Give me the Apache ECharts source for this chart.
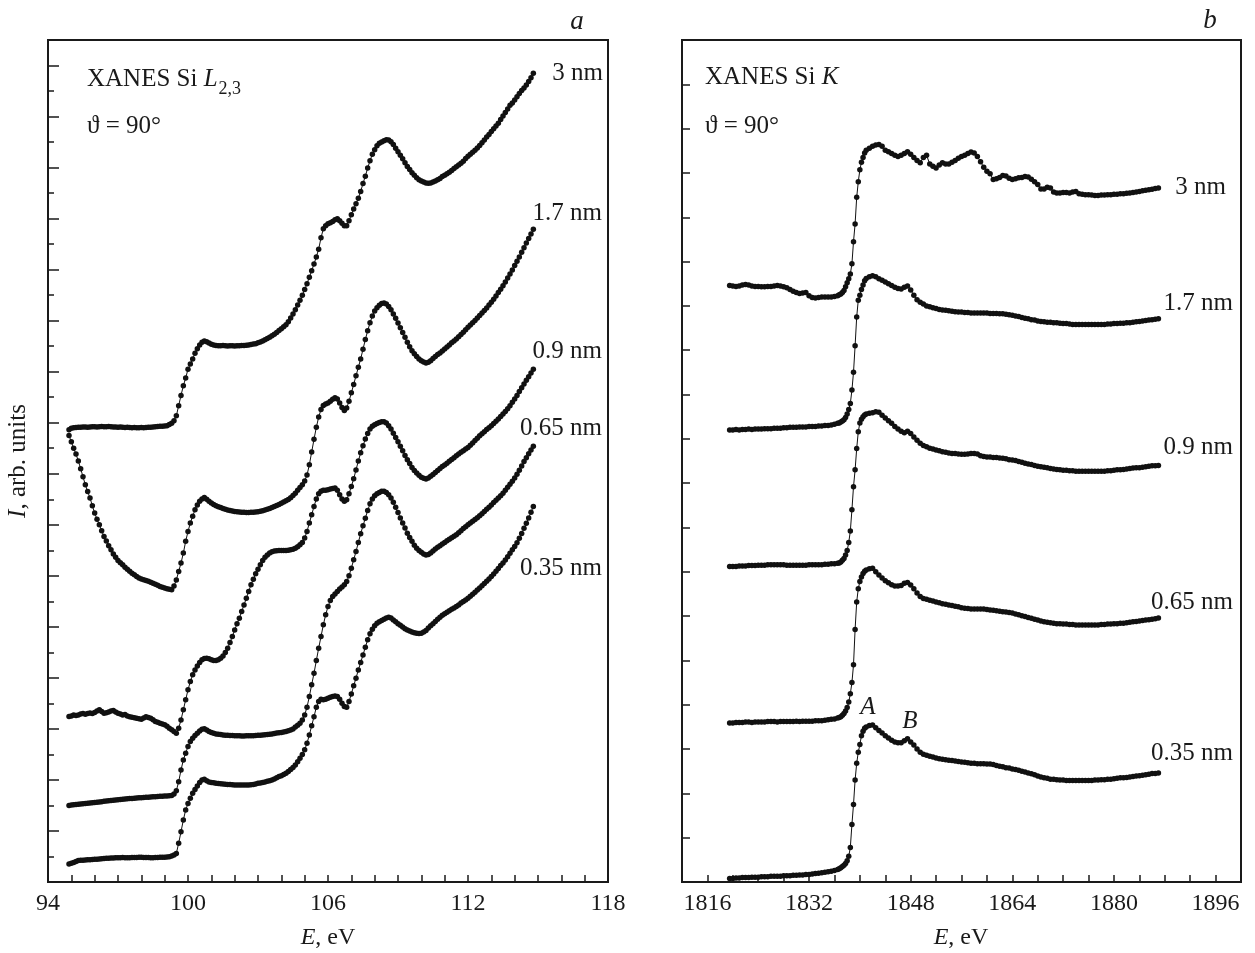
<!DOCTYPE html>
<html>
<head>
<meta charset="utf-8">
<script src="https://cdn.jsdelivr.net/npm/echarts@6/dist/echarts.min.js"></script>
<style>
html,body{margin:0;padding:0;background:#fff;}
#chart{width:1255px;height:953px;}
</style>
</head>
<body>
<div id="chart"></div>
<script>
// ---------- Panel a: XANES Si L2,3 (energy grid 94.9 .. 114.8 eV, step 0.1) ----------
const L_E_START = 94.9, L_E_STEP = 0.1, L_E_COUNT = 200;
const L_TICK_LABELS = [94, 100, 106, 112, 118];

const L_3nm = [
17.72,17.78,17.80,17.81,17.82,17.82,17.83,17.83,17.82,17.83,
17.84,17.84,17.83,17.84,17.85,17.84,17.84,17.85,17.84,17.83,
17.83,17.82,17.83,17.82,17.81,17.82,17.81,17.80,17.81,17.80,
17.80,17.81,17.80,17.81,17.82,17.82,17.83,17.84,17.85,17.86,
17.86,17.87,17.88,17.93,17.98,18.08,18.27,18.67,19.07,19.45,
19.75,20.1,20.3,20.5,20.72,20.9,21.05,21.15,21.2,21.17,
21.12,21.08,21.05,21.03,21.02,21.02,21.03,21.02,21.01,21.02,
21.02,21.01,21.02,21.02,21.03,21.03,21.04,21.05,21.07,21.09,
21.1,21.13,21.16,21.2,21.25,21.3,21.35,21.41,21.47,21.54,
21.61,21.68,21.76,21.84,21.96,22.1,22.26,22.43,22.61,22.8,
23.0,23.22,23.45,23.7,23.96,24.22,24.5,24.8,25.25,25.6,
25.72,25.8,25.84,25.89,25.96,25.99,25.92,25.82,25.72,25.72,
25.92,26.15,26.38,26.58,26.8,27.06,27.38,27.66,27.98,28.27,
28.52,28.7,28.86,28.95,29.0,29.05,29.09,29.08,29.01,28.9,
28.76,28.62,28.48,28.35,28.19,28.04,27.92,27.8,27.7,27.6,
27.52,27.47,27.43,27.4,27.39,27.4,27.43,27.47,27.52,27.57,
27.65,27.7,27.76,27.82,27.89,27.96,28.03,28.1,28.17,28.25,
28.36,28.44,28.52,28.6,28.68,28.77,28.87,28.97,29.08,29.2,
29.3,29.41,29.52,29.63,29.74,29.88,30.02,30.16,30.3,30.44,
30.53,30.65,30.78,30.9,31.02,31.12,31.24,31.37,31.52,31.7
];
const L_1_7nm = [
17.5,17.25,17.0,16.77,16.5,16.2,15.88,15.57,15.3,15.05,
14.75,14.46,14.22,14.0,13.77,13.54,13.36,13.18,13.02,12.86,
12.73,12.6,12.51,12.43,12.34,12.26,12.18,12.1,12.04,11.97,
11.91,11.88,11.85,11.82,11.79,11.75,11.71,11.67,11.63,11.58,
11.55,11.52,11.49,11.47,11.45,11.6,11.84,12.17,12.5,12.89,
13.35,13.74,14.07,14.33,14.59,14.78,14.92,15.01,15.07,15.0,
14.92,14.85,14.8,14.75,14.71,14.68,14.64,14.61,14.58,14.56,
14.54,14.52,14.51,14.5,14.49,14.49,14.48,14.48,14.49,14.49,
14.5,14.51,14.53,14.55,14.58,14.61,14.64,14.68,14.72,14.76,
14.8,14.84,14.89,14.94,14.99,15.06,15.15,15.24,15.35,15.46,
15.57,15.72,15.95,16.35,16.85,17.35,17.82,18.22,18.52,18.68,
18.73,18.77,18.84,18.92,18.98,18.93,18.77,18.6,18.48,18.58,
18.84,19.17,19.5,19.84,20.17,20.5,20.88,21.26,21.6,21.92,
22.18,22.38,22.51,22.6,22.67,22.69,22.65,22.56,22.43,22.26,
22.09,21.91,21.72,21.54,21.35,21.15,20.98,20.82,20.7,20.6,
20.5,20.43,20.38,20.34,20.37,20.43,20.52,20.6,20.67,20.73,
20.81,20.89,20.97,21.05,21.13,21.2,21.28,21.37,21.46,21.55,
21.64,21.74,21.83,21.92,22.01,22.1,22.2,22.3,22.4,22.5,
22.61,22.72,22.84,22.97,23.1,23.23,23.37,23.52,23.67,23.83,
23.99,24.16,24.33,24.5,24.68,24.86,25.04,25.22,25.4,25.58
];
const L_0_9nm = [
6.49,6.51,6.55,6.53,6.55,6.58,6.6,6.57,6.6,6.62,
6.6,6.64,6.7,6.75,6.68,6.61,6.63,6.66,6.7,6.72,
6.66,6.61,6.58,6.55,6.56,6.51,6.48,6.46,6.44,6.42,
6.4,6.38,6.43,6.48,6.45,6.42,6.36,6.29,6.26,6.22,
6.19,6.16,6.1,6.03,5.97,5.9,5.83,6.03,6.35,6.75,
7.14,7.53,7.86,8.12,8.31,8.47,8.6,8.71,8.76,8.77,
8.75,8.71,8.68,8.68,8.71,8.77,8.86,8.99,9.16,9.39,
9.62,9.88,10.12,10.34,10.6,10.86,11.12,11.39,11.65,11.87,
12.08,12.26,12.43,12.6,12.73,12.82,12.89,12.94,12.97,12.98,
12.99,12.99,12.99,12.99,13.0,13.02,13.04,13.08,13.14,13.22,
13.31,13.48,13.74,14.07,14.39,14.72,15.01,15.22,15.31,15.35,
15.35,15.37,15.4,15.42,15.44,15.35,15.18,15.01,14.92,14.98,
15.22,15.5,15.8,16.15,16.5,16.82,17.1,17.36,17.58,17.75,
17.86,17.92,17.97,18.01,18.04,18.04,17.99,17.88,17.75,17.59,
17.42,17.25,17.08,16.9,16.72,16.55,16.4,16.25,16.13,16.03,
15.94,15.86,15.82,15.79,15.83,15.9,15.97,16.05,16.13,16.21,
16.28,16.34,16.41,16.49,16.56,16.63,16.71,16.77,16.84,16.9,
16.97,17.03,17.12,17.21,17.3,17.39,17.49,17.57,17.65,17.73,
17.8,17.88,17.97,18.06,18.15,18.24,18.34,18.44,18.55,18.67,
18.8,18.93,19.07,19.22,19.37,19.52,19.66,19.8,19.95,20.1
];
const L_0_65nm = [
3.0,3.02,3.03,3.04,3.05,3.06,3.07,3.08,3.09,3.1,
3.11,3.12,3.13,3.14,3.15,3.16,3.17,3.18,3.19,3.2,
3.21,3.22,3.23,3.24,3.25,3.26,3.27,3.27,3.28,3.29,
3.3,3.3,3.31,3.32,3.32,3.33,3.34,3.34,3.35,3.36,
3.36,3.37,3.37,3.38,3.39,3.45,3.58,3.93,4.39,4.78,
5.05,5.31,5.51,5.63,5.74,5.83,5.92,5.99,6.01,5.96,
5.9,5.86,5.83,5.8,5.79,5.78,5.76,5.75,5.75,5.74,
5.74,5.73,5.73,5.73,5.72,5.72,5.73,5.73,5.73,5.73,
5.74,5.75,5.75,5.76,5.77,5.78,5.79,5.8,5.82,5.84,
5.85,5.86,5.88,5.9,5.93,5.96,6.0,6.07,6.14,6.22,
6.35,6.55,6.85,7.27,7.73,8.18,8.68,9.16,9.62,10.08,
10.47,10.8,11.03,11.19,11.29,11.39,11.48,11.56,11.65,11.78,
12.0,12.3,12.63,12.95,13.31,13.65,13.96,14.26,14.56,14.82,
15.01,15.14,15.22,15.27,15.31,15.31,15.27,15.18,15.05,14.88,
14.69,14.48,14.27,14.07,13.87,13.67,13.5,13.35,13.2,13.08,
12.99,12.92,12.86,12.82,12.84,12.89,12.97,13.05,13.12,13.18,
13.25,13.31,13.37,13.43,13.49,13.55,13.61,13.69,13.77,13.85,
13.92,14.0,14.07,14.14,14.21,14.28,14.35,14.43,14.52,14.61,
14.69,14.78,14.87,14.96,15.05,15.14,15.24,15.35,15.47,15.59,
15.71,15.83,15.98,16.14,16.3,16.48,16.63,16.78,16.93,17.08
];
const L_0_35nm = [
0.71,0.73,0.76,0.8,0.84,0.85,0.85,0.86,0.87,0.87,
0.88,0.89,0.89,0.9,0.91,0.92,0.93,0.93,0.94,0.94,
0.95,0.95,0.95,0.96,0.95,0.95,0.95,0.96,0.96,0.96,
0.97,0.97,0.96,0.96,0.96,0.95,0.95,0.96,0.96,0.97,
0.97,0.97,0.98,0.99,1.02,1.06,1.12,1.52,1.97,2.43,
2.82,3.08,3.28,3.48,3.63,3.76,3.9,4.0,4.03,3.97,
3.92,3.9,3.89,3.87,3.86,3.85,3.84,3.83,3.82,3.82,
3.81,3.8,3.8,3.8,3.8,3.8,3.8,3.8,3.81,3.82,
3.84,3.87,3.88,3.9,3.92,3.95,3.97,4.0,4.04,4.09,
4.13,4.16,4.21,4.26,4.33,4.41,4.49,4.59,4.71,4.85,
5.0,5.18,5.44,5.76,6.12,6.48,6.85,7.07,7.16,7.14,
7.16,7.2,7.24,7.27,7.29,7.27,7.16,7.01,6.88,6.85,
7.07,7.37,7.69,7.99,8.31,8.6,8.9,9.2,9.49,9.73,
9.91,10.04,10.14,10.2,10.25,10.3,10.35,10.38,10.35,10.27,
10.2,10.12,10.06,9.99,9.93,9.88,9.84,9.8,9.77,9.75,
9.74,9.75,9.8,9.86,9.95,10.04,10.12,10.21,10.3,10.38,
10.45,10.51,10.57,10.63,10.69,10.74,10.8,10.86,10.93,10.99,
11.05,11.12,11.2,11.28,11.36,11.44,11.52,11.61,11.7,11.79,
11.88,11.97,12.07,12.18,12.29,12.4,12.5,12.62,12.75,12.88,
13.02,13.15,13.3,13.47,13.66,13.86,14.06,14.27,14.49,14.72
];

// ---------- Panel b: XANES Si K (energy segments: [start, end, step]) ----------
const K_E_SEGMENTS = [[1819.5, 1836.5, 0.5], [1836.75, 1841.0, 0.25], [1841.5, 1887.0, 0.5]];
const K_TICK_LABELS = [1816, 1832, 1848, 1864, 1880, 1896];

const K_3nm = [
13.46,13.45,13.44,13.45,13.47,13.48,13.47,13.45,13.44,13.44,
13.43,13.43,13.44,13.44,13.45,13.46,13.45,13.43,13.41,13.37,
13.33,13.3,13.28,13.29,13.3,13.23,13.19,13.18,13.19,13.2,
13.2,13.2,13.2,13.21,13.23,
13.25,13.27,13.3,13.35,13.43,13.52,13.61,13.72,13.95,14.45,14.85,15.45,15.8,16.07,16.24,16.35,16.45,16.51,
16.56,16.6,16.63,16.64,16.6,16.51,16.48,16.44,16.4,16.37,
16.4,16.44,16.48,16.42,16.35,16.28,16.23,16.35,16.4,16.2,
16.15,16.11,16.18,16.23,16.2,16.2,16.24,16.28,16.33,16.37,
16.4,16.44,16.47,16.45,16.37,16.25,16.13,16.04,15.98,15.85,
15.87,15.9,15.94,15.93,15.88,15.85,15.87,15.89,15.9,15.92,
15.91,15.86,15.8,15.74,15.64,15.64,15.68,15.66,15.57,15.55,
15.55,15.56,15.56,15.55,15.57,15.58,15.53,15.52,15.51,15.51,
15.5,15.49,15.49,15.5,15.5,15.51,15.51,15.52,15.52,15.53,
15.53,15.54,15.55,15.56,15.57,15.58,15.6,15.61,15.62,15.63,
15.65,15.66
];
const K_1_7nm = [
10.2,10.2,10.21,10.2,10.21,10.21,10.22,10.21,10.22,10.22,
10.22,10.23,10.23,10.23,10.24,10.24,10.24,10.25,10.25,10.26,
10.26,10.26,10.27,10.27,10.27,10.28,10.28,10.28,10.29,10.29,
10.3,10.3,10.31,10.33,10.35,
10.36,10.38,10.4,10.43,10.48,10.56,10.66,10.8,11.1,11.5,12.1,12.75,13.13,13.24,13.37,13.47,13.57,13.62,
13.66,13.68,13.66,13.61,13.58,13.54,13.5,13.46,13.42,13.39,
13.38,13.42,13.45,13.36,13.24,13.14,13.08,13.04,13.0,12.98,
12.96,12.94,12.92,12.91,12.9,12.89,12.88,12.87,12.86,12.86,
12.85,12.85,12.84,12.84,12.84,12.84,12.84,12.84,12.83,12.83,
12.83,12.82,12.82,12.81,12.8,12.79,12.77,12.76,12.74,12.72,
12.71,12.69,12.68,12.66,12.65,12.64,12.63,12.63,12.62,12.62,
12.61,12.6,12.6,12.59,12.58,12.58,12.58,12.58,12.58,12.58,
12.58,12.58,12.58,12.58,12.58,12.59,12.59,12.6,12.6,12.61,
12.61,12.62,12.62,12.63,12.64,12.65,12.66,12.67,12.68,12.69,
12.7,12.71
];
const K_0_9nm = [
7.12,7.12,7.12,7.13,7.13,7.13,7.14,7.14,7.14,7.15,
7.15,7.15,7.16,7.16,7.16,7.16,7.16,7.16,7.15,7.15,
7.15,7.15,7.15,7.15,7.15,7.16,7.16,7.16,7.16,7.16,
7.17,7.17,7.18,7.18,7.19,
7.2,7.22,7.26,7.3,7.38,7.48,7.66,7.92,8.4,8.92,9.3,9.78,10.16,10.36,10.44,10.5,10.54,10.56,
10.58,10.59,10.61,10.6,10.53,10.47,10.41,10.35,10.28,10.22,
10.17,10.14,10.17,10.12,10.04,9.97,9.9,9.85,9.82,9.79,
9.77,9.75,9.73,9.71,9.7,9.68,9.67,9.67,9.66,9.65,
9.65,9.66,9.67,9.67,9.66,9.62,9.6,9.59,9.59,9.58,
9.58,9.57,9.56,9.55,9.53,9.52,9.51,9.49,9.47,9.45,
9.43,9.42,9.4,9.38,9.37,9.36,9.35,9.33,9.32,9.31,
9.3,9.29,9.29,9.28,9.28,9.27,9.27,9.27,9.27,9.27,
9.27,9.27,9.27,9.27,9.27,9.28,9.28,9.29,9.3,9.3,
9.31,9.32,9.33,9.34,9.35,9.35,9.36,9.37,9.38,9.39,
9.39,9.4
];
const K_0_65nm = [
3.59,3.59,3.6,3.6,3.6,3.61,3.61,3.6,3.61,3.61,
3.61,3.61,3.62,3.62,3.62,3.61,3.62,3.62,3.62,3.62,
3.62,3.63,3.62,3.63,3.63,3.63,3.63,3.64,3.64,3.64,
3.65,3.66,3.67,3.68,3.7,
3.71,3.73,3.76,3.8,3.86,3.94,4.06,4.25,4.5,4.9,5.7,6.32,6.62,6.78,6.88,6.96,7.01,7.04,
7.07,7.08,7.0,6.93,6.86,6.8,6.75,6.71,6.68,6.68,
6.69,6.74,6.76,6.7,6.62,6.52,6.44,6.4,6.38,6.36,
6.34,6.32,6.3,6.28,6.27,6.25,6.24,6.22,6.21,6.19,
6.18,6.17,6.16,6.16,6.16,6.16,6.16,6.15,6.14,6.13,
6.12,6.11,6.1,6.09,6.08,6.07,6.05,6.03,6.01,5.99,
5.97,5.95,5.93,5.91,5.89,5.87,5.86,5.85,5.84,5.83,
5.83,5.82,5.82,5.81,5.81,5.8,5.8,5.8,5.8,5.8,
5.8,5.8,5.8,5.81,5.81,5.82,5.82,5.83,5.83,5.84,
5.84,5.85,5.86,5.87,5.88,5.89,5.9,5.91,5.92,5.93,
5.94,5.96
];
const K_0_35nm = [
0.08,0.08,0.09,0.09,0.1,0.1,0.1,0.11,0.11,0.11,
0.12,0.12,0.12,0.13,0.13,0.13,0.13,0.14,0.14,0.14,
0.15,0.15,0.16,0.16,0.17,0.17,0.18,0.19,0.2,0.21,
0.22,0.23,0.24,0.26,0.28,
0.3,0.32,0.35,0.38,0.42,0.48,0.58,0.78,1.3,1.75,2.3,2.68,2.93,3.1,3.3,3.4,3.47,3.5,
3.53,3.54,3.48,3.42,3.36,3.3,3.25,3.2,3.16,3.14,
3.14,3.19,3.23,3.16,3.09,3.0,2.93,2.88,2.86,2.84,
2.82,2.8,2.78,2.77,2.76,2.75,2.74,2.73,2.72,2.71,
2.7,2.69,2.68,2.68,2.67,2.67,2.67,2.66,2.66,2.65,
2.63,2.61,2.6,2.58,2.57,2.55,2.54,2.52,2.5,2.48,
2.46,2.44,2.42,2.39,2.37,2.35,2.34,2.32,2.32,2.31,
2.3,2.3,2.29,2.29,2.29,2.29,2.29,2.29,2.29,2.29,
2.29,2.3,2.3,2.31,2.31,2.32,2.32,2.33,2.34,2.35,
2.35,2.36,2.37,2.38,2.39,2.4,2.41,2.42,2.43,2.45,
2.45,2.46
];

const L_CURVES = [L_3nm, L_1_7nm, L_0_9nm, L_0_65nm, L_0_35nm];
const K_CURVES = [K_3nm, K_1_7nm, K_0_9nm, K_0_65nm, K_0_35nm];
const CURVE_NAMES = ['3 nm', '1.7 nm', '0.9 nm', '0.65 nm', '0.35 nm'];

// ---------- build energy grids ----------
const L_E = [];
for (let i = 0; i < L_E_COUNT; i++) L_E.push(+(L_E_START + i * L_E_STEP).toFixed(2));
const K_E = [];
K_E_SEGMENTS.forEach(([a, b, s]) => {
  const n = Math.round((b - a) / s);
  for (let i = 0; i <= n; i++) K_E.push(+(a + i * s).toFixed(2));
});
L_CURVES.forEach((c, i) => { if (c.length !== L_E.length) throw new Error('L curve ' + i + ' length ' + c.length + ' vs ' + L_E.length); });
K_CURVES.forEach((c, i) => { if (c.length !== K_E.length) throw new Error('K curve ' + i + ' length ' + c.length + ' vs ' + K_E.length); });

// ---------- styling ----------
const FONT = "'Liberation Serif','Times New Roman','DejaVu Serif',serif";
const INK = '#111';
const TXT = '#1a1a1a';
const FS = 25;
const G_A = {left: 48, top: 40, width: 560, height: 842};
const G_B = {left: 682, top: 40, width: 559, height: 842};

function lineSeries(name, xi, yi, es, vals) {
  return {
    type: 'line', name: name, xAxisIndex: xi, yAxisIndex: yi,
    data: es.map((e, i) => [e, vals[i]]),
    symbol: 'circle', symbolSize: 5.5, showSymbol: true, showAllSymbol: true,
    lineStyle: {width: 1, color: INK}, itemStyle: {color: INK},
    silent: true, animation: false, z: 3
  };
}

function xAxisDef(gi, min, max, interval, labels) {
  return {
    type: 'value', gridIndex: gi, min: min, max: max, interval: interval,
    axisLine: {show: false},
    axisTick: {show: true, inside: true, length: 7, lineStyle: {color: TXT, width: 1.5}},
    splitLine: {show: false},
    axisLabel: {
      show: true, margin: 10, color: TXT, fontSize: 24, fontFamily: FONT,
      showMinLabel: true, showMaxLabel: true,
      formatter: v => (labels.indexOf(Math.round(v)) >= 0 && Math.abs(v - Math.round(v)) < 1e-6) ? String(Math.round(v)) : ''
    }
  };
}
function yAxisDef(gi, max, interval, len) {
  return {
    type: 'value', gridIndex: gi, min: 0, max: max, interval: interval, position: 'left',
    axisLine: {show: false},
    axisTick: {show: true, inside: true, length: len, lineStyle: {color: TXT, width: 1.5}},
    axisLabel: {show: false}, splitLine: {show: false}
  };
}

const series = [];
L_CURVES.forEach((c, i) => series.push(lineSeries('L ' + CURVE_NAMES[i], 0, 0, L_E, c)));
K_CURVES.forEach((c, i) => series.push(lineSeries('K ' + CURVE_NAMES[i], 1, 2, K_E, c)));

// text measuring for the subscript
const mctx = document.createElement('canvas').getContext('2d');
mctx.font = FS + 'px ' + FONT;
const wXanes = mctx.measureText('XANES Si ').width;
mctx.font = 'italic ' + FS + 'px ' + FONT;
const wL = mctx.measureText('L').width;

function txt(x, y, text, opts) {
  opts = opts || {};
  const st = {
    text: text, fill: TXT,
    font: (opts.italic ? 'italic ' : '') + (opts.size || FS) + 'px ' + FONT,
    align: opts.align || 'left', verticalAlign: 'middle',
    textAlign: opts.align || 'left', textVerticalAlign: 'middle'
  };
  if (opts.rich) st.rich = opts.rich;
  return {type: 'text', x: x, y: y, rotation: opts.rotation || 0, silent: true, z: 10, style: st};
}
const richI = {i: {fontStyle: 'italic', fontSize: FS, fontFamily: FONT, color: TXT}, n: {fontSize: FS, fontFamily: FONT, color: TXT}};
const richAx = {i: {fontStyle: 'italic', fontSize: 24, fontFamily: FONT, color: TXT}, n: {fontSize: 24, fontFamily: FONT, color: TXT}};

const graphic = [
  // panel letters
  txt(577, 22, 'a', {italic: true, size: 27, align: 'center'}),
  txt(1210, 21, 'b', {italic: true, size: 27, align: 'center'}),
  // panel a annotations
  txt(87, 79, '{n|XANES Si }{i|L}', {rich: richI}),
  txt(87 + wXanes + wL + 1, 89, '2,3', {size: 18}),
  txt(87, 126, 'ϑ = 90°'),
  txt(603, 73, '3 nm', {align: 'right'}),
  txt(602, 213, '1.7 nm', {align: 'right'}),
  txt(602, 351, '0.9 nm', {align: 'right'}),
  txt(602, 428, '0.65 nm', {align: 'right'}),
  txt(602, 568, '0.35 nm', {align: 'right'}),
  // panel b annotations
  txt(705, 77, '{n|XANES Si }{i|K}', {rich: richI}),
  txt(705, 126, 'ϑ = 90°'),
  txt(1226, 187, '3 nm', {align: 'right'}),
  txt(1233, 303, '1.7 nm', {align: 'right'}),
  txt(1233, 447, '0.9 nm', {align: 'right'}),
  txt(1233, 602, '0.65 nm', {align: 'right'}),
  txt(1233, 753, '0.35 nm', {align: 'right'}),
  txt(868, 707, 'A', {italic: true, align: 'center'}),
  txt(910, 721, 'B', {italic: true, align: 'center'}),
  // axis titles
  txt(328, 938, '{i|E}{n|, eV}', {rich: richAx, align: 'center'}),
  txt(961, 938, '{i|E}{n|, eV}', {rich: richAx, align: 'center'}),
  txt(18, 461, '{i|I}{n|, arb. units}', {rich: richI, align: 'center', rotation: Math.PI / 2})
];

const chart = echarts.init(document.getElementById('chart'), null, {renderer: 'canvas'});
chart.setOption({
  animation: false,
  backgroundColor: '#fff',
  grid: [
    Object.assign({show: true, borderColor: '#1a1a1a', borderWidth: 2, backgroundColor: 'transparent', containLabel: false}, G_A),
    Object.assign({show: true, borderColor: '#1a1a1a', borderWidth: 2, backgroundColor: 'transparent', containLabel: false}, G_B)
  ],
  xAxis: [
    xAxisDef(0, 94, 118, 1, L_TICK_LABELS),
    xAxisDef(1, 1812, 1900, 4, K_TICK_LABELS)
  ],
  yAxis: [
    yAxisDef(0, 33, 2, 11),
    yAxisDef(0, 33, 1, 6),
    yAxisDef(1, 19, 1, 8)
  ],
  series: series,
  graphic: graphic
});
</script>
</body>
</html>
